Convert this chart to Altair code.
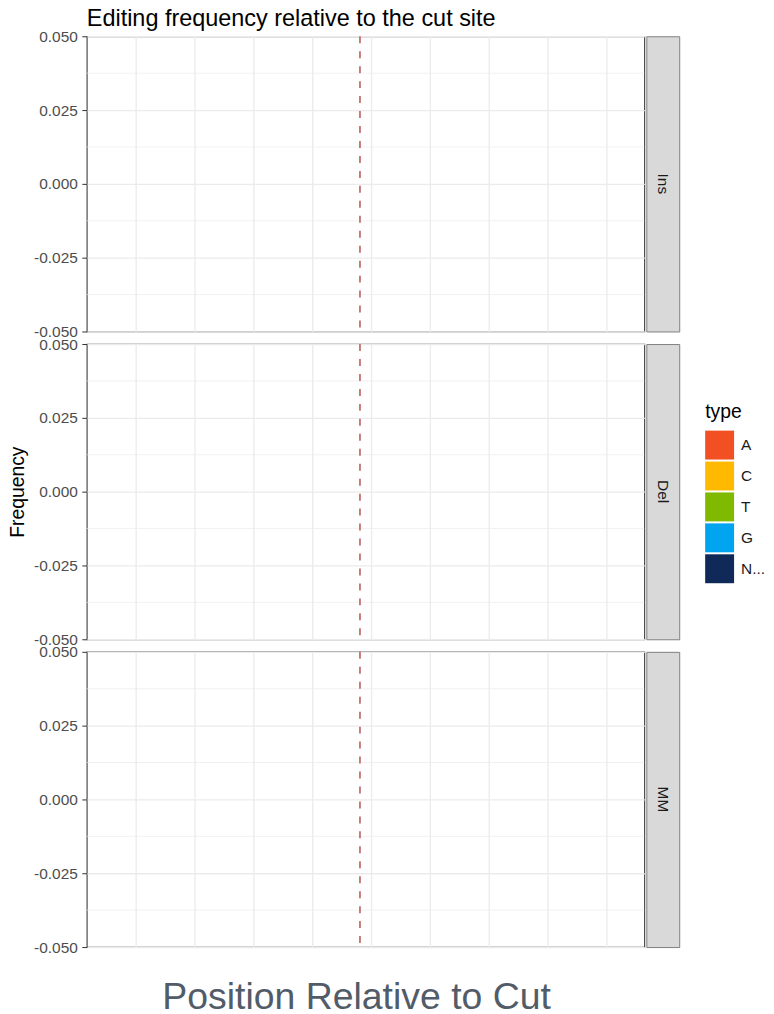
import altair as alt
import pandas as pd

# ---- data ----
panel_names = ["Ins", "Del", "MM"]
type_labels = ["A", "C", "T", "G", "N..."]
type_colors = ["#f25022", "#ffb900", "#7fba00", "#00a4ef", "#0f2a59"]
y_major = [-0.05, -0.025, 0.0, 0.025, 0.05]
y_minor = [-0.0375, -0.0125, 0.0125, 0.0375]
x_breaks = [1, 2, 3, 4, 5, 6, 7, 8, 9]
x_domain = [0.17, 9.64]
y_domain = [-0.05, 0.05]
cut_site = [4.81]

FONT = "Liberation Sans"
PW, PH = 559, 296

xscale = alt.Scale(domain=x_domain, nice=False, zero=False)
yscale = alt.Scale(domain=y_domain, nice=False, zero=False)

minor_df = pd.DataFrame({"y": y_minor})
cut_df = pd.DataFrame({"x": cut_site})
type_df = pd.DataFrame({"type": type_labels})


def make_panel(idx, name):
    yaxis = alt.Axis(
        values=y_major,
        labelExpr="replace(format(datum.value, '.3f'), '\u2212', '-')",
        grid=True, gridColor="#ebebeb", gridWidth=1.3,
        domain=False,
        ticks=True, tickSize=5, tickColor="#333333", tickWidth=1,
        labelFontSize=15.5, labelColor="#4d4d4d", labelFont=FONT, labelPadding=4.5,
        title="Frequency" if idx == 1 else None,
        titleFontSize=19.4, titleFont=FONT, titleFontWeight="normal",
        titleColor="#000000",
        titlePadding=6,
    )
    xaxis = alt.Axis(
        values=x_breaks, grid=True, gridColor="#ebebeb", gridWidth=1.3,
        labels=False, ticks=False, domain=False,
        title="Position Relative to Cut" if idx == 2 else None,
        titleFontSize=37.5, titleFont=FONT, titleFontWeight="normal",
        titleColor="#525c68", titlePadding=32, titleX=270, titleAlign="center",
    )
    minor = alt.Chart(minor_df).mark_rule(color="#ebebeb", strokeWidth=0.7).encode(
        y=alt.Y("y:Q", scale=yscale, axis=yaxis)
    )
    cut = alt.Chart(cut_df).mark_rule(
        color="#c4716f", strokeDash=[7, 8], strokeWidth=1.8
    ).encode(x=alt.X("x:Q", scale=xscale, axis=xaxis))
    layers = [minor, cut]
    if idx == 0:
        leg = alt.Chart(type_df).mark_square(opacity=1).encode(
            color=alt.Color(
                "type:N",
                scale=alt.Scale(domain=type_labels, range=type_colors),
                legend=alt.Legend(
                    title="type", orient="none", legendX=620, legendY=368,
                    symbolType="square", symbolSize=841, symbolStrokeWidth=0,
                    symbolOpacity=1, rowPadding=2, labelOffset=7,
                    titleFontSize=19.4, titleFont=FONT, titleFontWeight="normal",
                    titleColor="#000000", titlePadding=8,
                    labelFontSize=15.5, labelFont=FONT, labelColor="#1a1a1a",
                ),
            )
        ).transform_filter("false")
        layers.append(leg)
    ch = alt.layer(*layers).properties(
        width=PW, height=PH,
        view=alt.ViewBackground(stroke="#4d4d4d", strokeWidth=1.2, fill="white"),
    )
    if idx == 0:
        ch = ch.properties(
            title=alt.TitleParams(
                "Editing frequency relative to the cut site",
                anchor="start", frame="group", fontSize=23.5, font=FONT,
                fontWeight="normal", color="#000000", offset=-1.5,
            )
        )
    strip = alt.Chart(pd.DataFrame({"panel": [name]})).mark_text(
        angle=90, fontSize=15.5, font=FONT, color="#1a1a1a"
    ).encode(text="panel:N").properties(
        width=33, height=PH,
        view=alt.ViewBackground(fill="#d9d9d9", stroke="#808080", strokeWidth=1),
    )
    return alt.hconcat(ch, strip, spacing=0)


rows = [make_panel(i, n) for i, n in enumerate(panel_names)]
chart = alt.vconcat(*rows, spacing=-5.4).properties(
    padding={"left": -2, "top": -3, "right": 0, "bottom": 0}
).configure(background="white")

chart.save("out.html", embed_options={"renderer": "svg", "actions": False})
